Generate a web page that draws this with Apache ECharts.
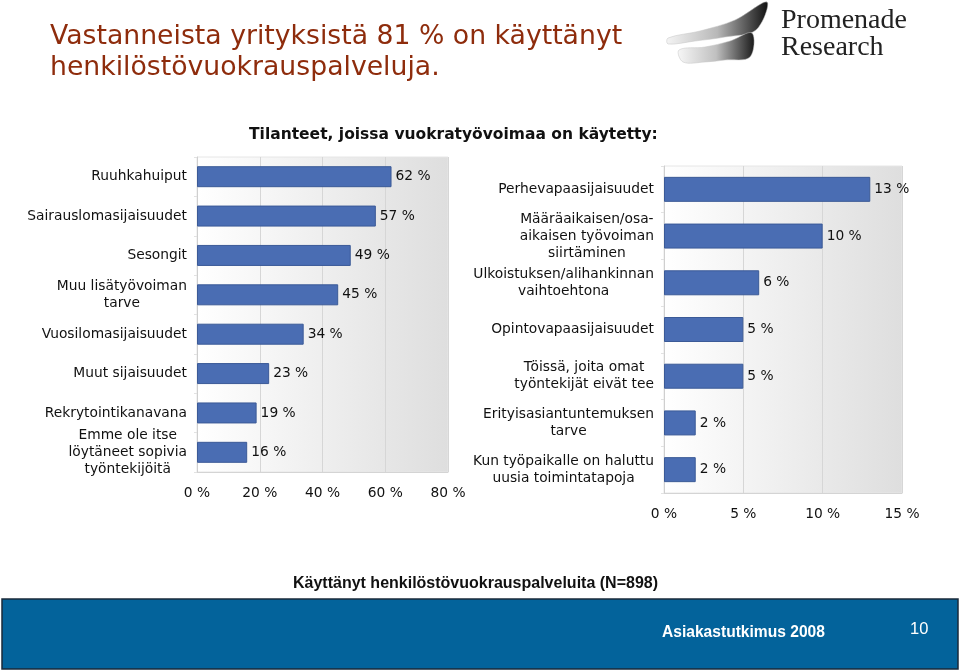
<!DOCTYPE html>
<html><head><meta charset="utf-8">
<script src="https://cdn.jsdelivr.net/npm/echarts@6/dist/echarts.min.js"></script>
<style>html,body{margin:0;padding:0;background:#fff}#c{width:960px;height:672px}</style>
</head><body><div id="c"></div>
<script>
const leftCategories = ['Ruuhkahuiput','Sairauslomasijaisuudet','Sesongit','Muu lisätyövoiman\ntarve','Vuosilomasijaisuudet','Muut sijaisuudet','Rekrytointikanavana','Emme ole itse\nlöytäneet sopivia\ntyöntekijöitä'];
const leftValues = [62,57,49,45,34,23,19,16];
const rightCategories = ['Perhevapaasijaisuudet','Määräaikaisen/osa-\naikaisen työvoiman\nsiirtäminen','Ulkoistuksen/alihankinnan\nvaihtoehtona','Opintovapaasijaisuudet','Töissä, joita omat\ntyöntekijät eivät tee','Erityisasiantuntemuksen\ntarve','Kun työpaikalle on haluttu\nuusia toimintatapoja'];
const rightValues = [13,10,6,5,5,2,2];
const titleLines = ['Vastanneista yrityksistä 81 % on käyttänyt','henkilöstövuokrauspalveluja.'];
const subtitleText = 'Tilanteet, joissa vuokratyövoimaa on käytetty:';
const captionText = 'Käyttänyt henkilöstövuokrauspalveluita (N=898)';
const footerText = 'Asiakastutkimus 2008';
const pageNumber = '10';

const FONT = 'DejaVu Sans';
const FS = 13.8;
const barColor = '#4a6db3';
const bg = new echarts.graphic.LinearGradient(0,0,1,0,[{offset:0,color:'#ffffff'},{offset:1,color:'#dedede'}]);

function catLabel(){
  return {
    fontFamily: FONT, fontSize: FS, color:'#111', margin: 10, lineHeight: 17,
    formatter: v => v.split('\n').map(l => '{c|' + l + '}').join('\n'),
    rich: { c: { align:'center', fontFamily: FONT, fontSize: FS, color:'#111', lineHeight: 17 } }
  };
}
function valAxis(gi, max, interval){
  return {
    type:'value', gridIndex: gi, min:0, max:max, interval:interval,
    axisLine:{show:true, lineStyle:{color:'#d4d4d4'}},
    axisTick:{show:false},
    splitLine:{show:true, lineStyle:{color:'#d6d6d6', width:1}},
    axisLabel:{fontFamily:FONT, fontSize:FS, color:'#111', margin:14, formatter: v => v + ' %'}
  };
}
function catAxis(gi, cats){
  return {
    type:'category', gridIndex: gi, data: cats, inverse:true,
    axisLine:{show:true, lineStyle:{color:'#cfcfcf'}},
    axisTick:{show:true, length:3, lineStyle:{color:'#e2e2e2'}},
    axisLabel: catLabel()
  };
}
function barSeries(i, vals, bw){
  return {
    type:'bar', xAxisIndex:i, yAxisIndex:i, data: vals, barWidth: bw,
    itemStyle:{color: barColor, borderColor:'#3b5a97', borderWidth:1},
    label:{show:true, position:'right', distance:4, fontFamily:FONT, fontSize:FS, color:'#111', formatter: p => p.value + ' %'}
  };
}
function grad(c0,c1,c2){
  return new echarts.graphic.LinearGradient(0,0,1,0,[{offset:0,color:c0},{offset:0.5,color:c1},{offset:1,color:c2}]);
}

const chart = echarts.init(document.getElementById('c'), null, {renderer:'canvas'});
chart.setOption({
  animation:false,
  backgroundColor:'#ffffff',
  title:[
    {text: titleLines.join('\n'), left:45, top:17, textStyle:{fontFamily:FONT, fontWeight:'normal', fontSize:26.7, color:'#8e2c0c', lineHeight:31}},
    {text: subtitleText, left:244, top:122, textStyle:{fontFamily:FONT, fontWeight:'bold', fontSize:15.5, color:'#111'}},
    {text: captionText, left:288, top:571, textStyle:{fontFamily:'Liberation Sans Narrow, Liberation Sans', fontWeight:'bold', fontSize:16, color:'#111'}}
  ],
  grid:[
    {left:197, top:157, width:251, height:315, show:true, backgroundColor:bg, borderColor:'#e6e6e6', borderWidth:1},
    {left:664, top:166, width:238, height:327, show:true, backgroundColor:bg, borderColor:'#e6e6e6', borderWidth:1}
  ],
  xAxis:[ valAxis(0, 80, 20), valAxis(1, 15, 5) ],
  yAxis:[ catAxis(0, leftCategories), catAxis(1, rightCategories) ],
  series:[ barSeries(0, leftValues, 21), barSeries(1, rightValues, 25) ],
  graphic:[
    {type:'rect', shape:{x:2, y:599, width:956, height:70}, style:{fill:'#03639b', stroke:'#1a2a3a', lineWidth:1.5}, z:0},
    {type:'text', x:662, y:625, style:{text: footerText, fill:'#ffffff', font:'bold 15.6px "Liberation Sans Narrow", "Liberation Sans"'}, z:2},
    {type:'text', x:910, y:621, style:{text: pageNumber, fill:'#ffffff', font:'16.5px "Liberation Sans Narrow", "Liberation Sans"'}, z:2},
    {type:'polygon', z:1, shape:{smooth:0.35, points:[[668,38],[700,31],[735,20],[767,2],[756,30],[725,37],[695,41],[668,44]]},
      style:{fill:grad('#f4f4f4','#b8b8b8','#111'), stroke:'#c4c4c4', lineWidth:0.5}},
    {type:'polygon', z:1, shape:{smooth:0.35, points:[[679,50],[705,47],[730,41],[752,33],[750,57],[725,60],[705,62],[683,62]]},
      style:{fill:grad('#f6f6f6','#c0c0c0','#1a1a1a'), stroke:'#c4c4c4', lineWidth:0.5}},
    {type:'text', x:781, y:7, style:{text:'Promenade\nResearch', fill:'#222', font:'28px "Liberation Serif", "DejaVu Serif", serif', lineHeight:27}}
  ]
});
</script></body></html>
